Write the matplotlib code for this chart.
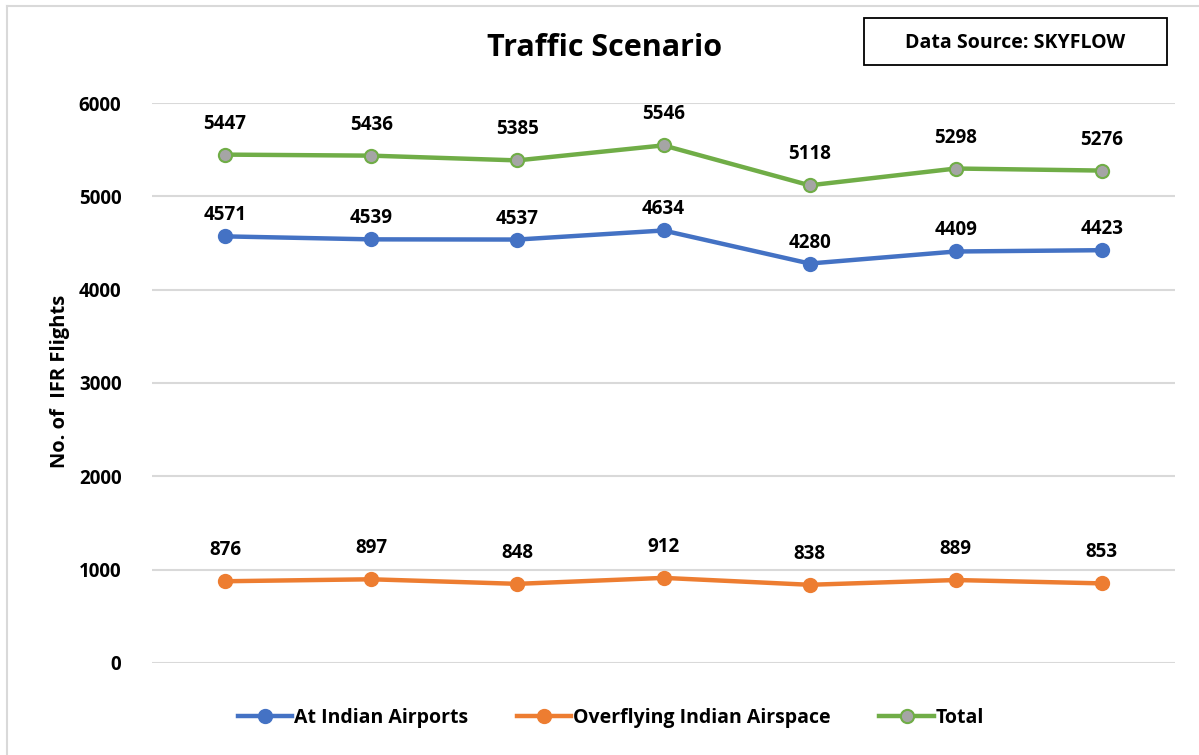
import matplotlib
matplotlib.use("Agg")
import matplotlib.pyplot as plt
from matplotlib.patches import Rectangle
from matplotlib.lines import Line2D

plt.rcParams['font.family'] = ['Open Sans', 'DejaVu Sans']
plt.rcParams['font.weight'] = 'bold'

# ---- data ----
categories = ["", "", "", "", "", "", ""]   # no category labels shown
at_airports = [4571, 4539, 4537, 4634, 4280, 4409, 4423]
overflying = [876, 897, 848, 912, 838, 889, 853]
total = [5447, 5436, 5385, 5546, 5118, 5298, 5276]
series_names = ["At Indian Airports", "Overflying Indian Airspace", "Total"]
yticks = [0, 1000, 2000, 3000, 4000, 5000, 6000]

W, H = 1199, 755
fig = plt.figure(figsize=(W / 100, H / 100), dpi=100)

# plot area in pixels
left, right, top, bottom = 152, 1175, 103, 663
ax = fig.add_axes([left / W, 1 - bottom / H, (right - left) / W, (bottom - top) / H])

x = list(range(len(categories)))
blue, orange, green, gray = "#4472C4", "#ED7D31", "#70AD47", "#A5A5A5"

styles = [
    (at_airports, blue, blue, 21),
    (overflying, orange, orange, 31),
    (total, green, gray, 31),
]
for (vals, lc, fc, off), name in zip(styles, series_names):
    ax.plot(x, vals, color=lc, lw=3.2, marker='o', markersize=9.5,
            markerfacecolor=fc, markeredgecolor=lc, markeredgewidth=1.5,
            label=name, clip_on=False, zorder=3, solid_capstyle='round')
    for xi, v in zip(x, vals):
        ax.annotate(f"{v}", (xi, v), xytext=(0, off), textcoords='offset pixels',
                    ha='center', va='center', fontsize=13.5, fontweight='bold',
                    color='black')

ax.set_xlim(-0.5, len(categories) - 0.5)
ax.set_ylim(0, 6000)
ax.set_yticks(yticks)
ax.set_yticklabels([str(t) for t in yticks], fontsize=13.5, fontweight='bold')
ax.set_xticks(x)
ax.set_xticklabels(categories)
ax.tick_params(axis='both', length=0, pad=22)
ax.tick_params(axis='x', pad=0)
ax.grid(axis='y', color='#D9D9D9', lw=1.5)
ax.set_axisbelow(True)
for s in ax.spines.values():
    s.set_visible(False)

fig.text(60 / W, 1 - 381 / H, "No. of  IFR Flights", rotation=90, ha='center',
         va='center', fontsize=14.5, fontweight='bold')

fig.text(605 / W, 1 - 48 / H, "Traffic Scenario", ha='center', va='center',
         fontsize=22, fontweight='bold')

# data source box
fig.patches.append(Rectangle((864 / W, 1 - 65 / H), (1167 - 864) / W, (65 - 18) / H,
                             transform=fig.transFigure, fill=False,
                             edgecolor='black', lw=1.3))
fig.text(1015 / W, 1 - 43 / H, "Data Source: SKYFLOW", ha='center', va='center',
         fontsize=14, fontweight='bold')

# outer chart border (left & top visible)
fig.add_artist(Line2D([7 / W, 7 / W], [0, 1 - 6 / H], transform=fig.transFigure,
                      color='#D9D9D9', lw=1.5))
fig.add_artist(Line2D([7 / W, 1], [1 - 6 / H, 1 - 6 / H], transform=fig.transFigure,
                      color='#D9D9D9', lw=1.5))

handles = []
for (vals, lc, fc, off), name in zip(styles, series_names):
    handles.append(Line2D([], [], color=lc, lw=3.2, marker='o', markersize=9.5,
                          markerfacecolor=fc, markeredgecolor=lc,
                          markeredgewidth=1.5))
fig.legend(handles, series_names, loc='center', bbox_to_anchor=(611 / W, 1 - 718 / H),
           ncol=3, frameon=False, handlelength=2.8, handletextpad=0.1,
           columnspacing=2.5, prop={'weight': 'bold', 'size': 14})

fig.savefig("out.png", dpi=100, facecolor='white')
